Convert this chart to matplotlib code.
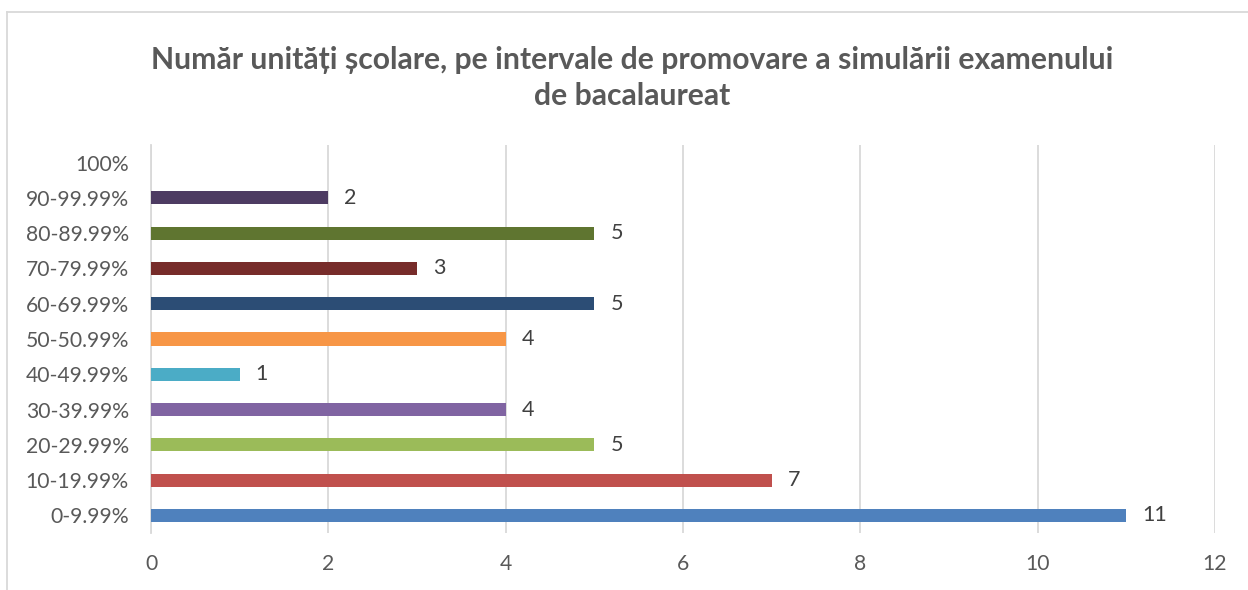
import matplotlib
matplotlib.use("Agg")
import matplotlib.pyplot as plt
from matplotlib.lines import Line2D

categories = ["0-9.99%", "10-19.99%", "20-29.99%", "30-39.99%", "40-49.99%",
              "50-50.99%", "60-69.99%", "70-79.99%", "80-89.99%", "90-99.99%", "100%"]
values = [11, 7, 5, 4, 1, 4, 5, 3, 5, 2, 0]
colors = ["#4F81BD", "#C0504D", "#9BBB59", "#8064A2", "#4BACC6",
          "#F79646", "#2C4D75", "#772C2A", "#5F7530", "#4D3B62", "#7F6084"]
x_ticks = [0, 2, 4, 6, 8, 10, 12]
title = "Număr unități școlare, pe intervale de promovare a simulării examenului\nde bacalaureat"

plt.rcParams['font.family'] = ['Lato', 'DejaVu Sans']

fig = plt.figure(figsize=(12.48, 5.9), dpi=100)
ax = fig.add_axes([151/1248, 1-533/590, (1215-151)/1248, (533-145)/590])

ypos = list(range(len(categories)))
ax.barh(ypos, values, height=0.37, color=colors, zorder=3)
for y, v in zip(ypos, values):
    if v > 0:
        ax.text(v + 0.18, y, str(v), va='center', ha='left', fontsize=15.5, color='#404040')

ax.set_xlim(0, 12)
ax.set_ylim(-0.5, len(categories) - 0.5)
ax.set_xticks(x_ticks)
ax.set_xticklabels([str(t) for t in x_ticks])
ax.set_yticks(ypos)
ax.set_yticklabels(categories)
ax.tick_params(axis='both', length=0, labelsize=15.2, labelcolor='#595959')
ax.tick_params(axis='x', pad=15)
ax.tick_params(axis='y', pad=16)
ax.grid(axis='x', color='#D9D9D9', linewidth=1.3, zorder=0)
for s in ['top', 'right', 'bottom']:
    ax.spines[s].set_visible(False)
ax.spines['left'].set_color('#D9D9D9')
ax.spines['left'].set_linewidth(1.3)

fig.text(632/1248, 1-78/590, title, ha='center', va='center', fontsize=21.7,
         fontweight='bold', color='#595959', linespacing=1.35)

# chart border (top and left visible)
fig.add_artist(Line2D([7/1248, 7/1248], [0, 1-12/590], transform=fig.transFigure, color='#D9D9D9', linewidth=1.3))
fig.add_artist(Line2D([7/1248, 1], [1-12/590, 1-12/590], transform=fig.transFigure, color='#D9D9D9', linewidth=1.3))

fig.savefig("out.png", dpi=100, facecolor='white')
